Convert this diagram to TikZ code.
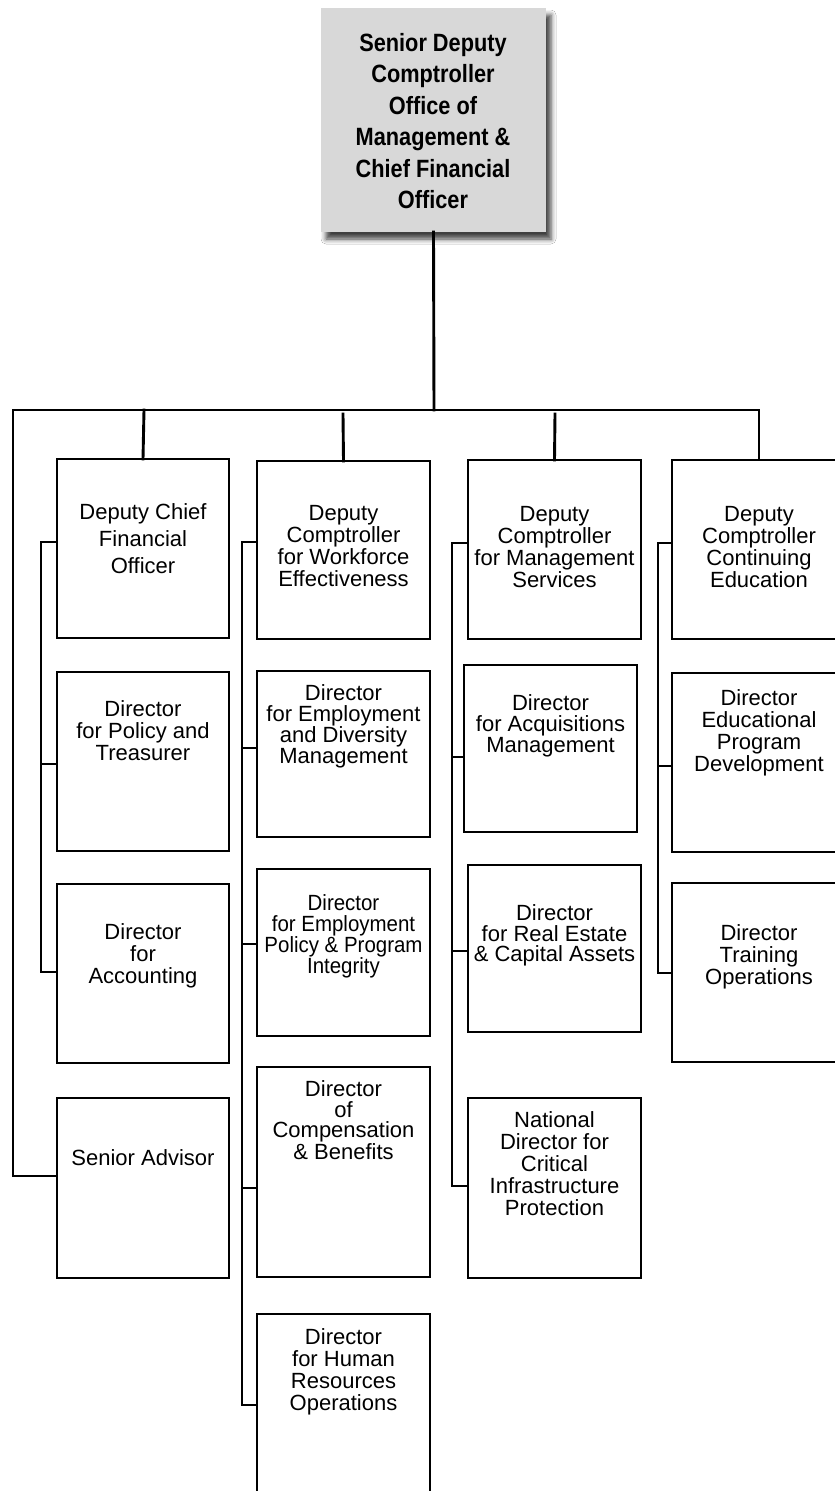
\documentclass[tikz,border=0pt]{standalone}
\usepackage{fontspec}
\setmainfont{Liberation Sans}
\newfontfamily\condbold[FakeStretch=0.87]{Liberation Sans Bold}
\newfontfamily\narrowsans[FakeStretch=0.93]{Liberation Sans}
\usetikzlibrary{shadows.blur}
\begin{document}
\begin{tikzpicture}[x=1pt,y=-1pt,
  box/.style={draw=black,line width=2.9pt,fill=white,inner sep=0pt,outer sep=0pt,minimum width=173pt},
  txt/.style={align=center,inner sep=0pt,font=\fontsize{22}{22}\selectfont},
  conn/.style={line width=2.9pt,line cap=rect},
  topbox/.style={fill={rgb,255:red,216;green,216;blue,216},inner sep=0pt,outer sep=0pt,minimum width=225pt,minimum height=224pt,
    blur shadow={shadow xshift=5pt,shadow yshift=-7pt,shadow blur radius=5pt,shadow opacity=75}}]
\useasboundingbox (0,0) rectangle (835,1491);
\clip (0,0) rectangle (835,1491);
\fill[white] (0,0) rectangle (835,1491);

% top box
\node[topbox] (top) at (433.5,120) {};
\node[align=center,inner sep=0pt,font=\condbold\fontsize{25}{31.5}\selectfont] (toptxt) at (433,121)
  {Senior Deputy\\Comptroller\\Office of\\Management \&\\Chief Financial\\Officer};

% bus coordinates
\coordinate (busL) at (13,410);
\coordinate (busR) at (759,410);
\coordinate (busT) at (434,410);
\coordinate (g2) at (343,414);
\coordinate (g3) at (555,414);
\coordinate (g1) at (144,410);

% column 1
\node[box,minimum width=172pt,minimum height=179pt] (c1r1) at (143,548.5) {};
\node[box,minimum width=172pt,minimum height=179pt] (c1r2) at (143,761.5) {};
\node[box,minimum width=172pt,minimum height=179pt] (c1r3) at (143,973.5) {};
\node[box,minimum width=172pt,minimum height=180pt] (c1r4) at (143,1188) {};
\node[txt,font=\fontsize{22}{27}\selectfont] (t11) at (143,538.5) {Deputy Chief\\Financial\\Officer};
\node[txt] (t12) at (143,731) {Director\\for Policy and\\Treasurer};
\node[txt] (t13) at (143,956) {Director\\for\\Accounting};
\node[txt] (t14) at (143,1158) {Senior Advisor};

% column 2
\node[box,minimum height=178pt] (c2r1) at (343.5,550) {};
\node[box,minimum height=166pt] (c2r2) at (343.5,754) {};
\node[box,minimum height=167pt] (c2r3) at (343.5,952.5) {};
\node[box,minimum height=210pt] (c2r4) at (343.5,1172) {};
\node[box,minimum height=190pt] (c2r5) at (343.5,1409) {};
\node[txt] (t21) at (343.5,546.5) {Deputy\\Comptroller\\for Workforce\\Effectiveness};
\node[txt,font=\fontsize{22}{21}\selectfont] (t22) at (343.5,726) {Director\\for Employment\\and Diversity\\Management};
\node[txt,font=\narrowsans\fontsize{22}{21}\selectfont] (t23) at (343.5,936.5) {Director\\for Employment\\Policy \& Program\\Integrity};
\node[txt,font=\fontsize{22}{20.5}\selectfont] (t24) at (343.5,1120) {Director\\of\\Compensation\\\& Benefits};
\node[txt] (t25) at (343.5,1372) {Director\\for Human\\Resources\\Operations};

% column 3
\node[box,minimum height=179pt] (c3r1) at (554.5,549.5) {};
\node[box,minimum height=167pt] (c3r2) at (550.5,748.5) {};
\node[box,minimum height=167pt] (c3r3) at (554.5,948.5) {};
\node[box,minimum height=180pt] (c3r4) at (554.5,1188) {};
\node[txt] (t31) at (554.5,547.5) {Deputy\\Comptroller\\for Management\\Services};
\node[txt,font=\fontsize{22}{21}\selectfont] (t32) at (550.5,726) {Director\\for Acquisitions\\Management};
\node[txt,font=\fontsize{22}{20.5}\selectfont] (t33) at (554.5,935.5) {Director\\for Real Estate\\\& Capital Assets};
\node[txt] (t34) at (554.5,1164) {National\\Director for\\Critical\\Infrastructure\\Protection};

% column 4
\node[box,minimum width=174pt,minimum height=179pt] (c4r1) at (759,549.5) {};
\node[box,minimum width=174pt,minimum height=179pt] (c4r2) at (759,762.5) {};
\node[box,minimum width=174pt,minimum height=179pt] (c4r3) at (759,972.5) {};
\node[txt] (t41) at (759,547.5) {Deputy\\Comptroller\\Continuing\\Education};
\node[txt] (t42) at (759,732.5) {Director\\Educational\\Program\\Development};
\node[txt] (t43) at (759,956.5) {Director\\Training\\Operations};

% main connectors
\draw[conn] (top.south) -- (busT);
\draw[conn] (busL) -- (busR);
\draw[conn] (busR) -- (c4r1.north);
\draw[conn] (g1) -- (c1r1.north);
\draw[conn] (g2) -- (c2r1.north);
\draw[conn] (g3) -- (c3r1.north);
\coordinate (sa) at (13,1176);
\draw[conn] (busL) -- (sa) -- (sa -| c1r4.west);

% column 1 side bus
\coordinate (s1a) at (41,542);
\coordinate (s1b) at (41,764);
\coordinate (s1c) at (41,972);
\draw[conn] (s1a -| c1r1.west) -- (s1a) -- (s1c) -- (s1c -| c1r3.west);
\draw[conn] (s1b) -- (s1b -| c1r2.west);

% column 2 side bus
\coordinate (s2a) at (242,542);
\coordinate (s2b) at (242,748);
\coordinate (s2c) at (242,944);
\coordinate (s2d) at (242,1188);
\coordinate (s2e) at (242,1405);
\draw[conn] (s2a -| c2r1.west) -- (s2a) -- (s2e) -- (s2e -| c2r5.west);
\draw[conn] (s2b) -- (s2b -| c2r2.west);
\draw[conn] (s2c) -- (s2c -| c2r3.west);
\draw[conn] (s2d) -- (s2d -| c2r4.west);

% column 3 side bus
\coordinate (s3a) at (452,543);
\coordinate (s3b) at (452,757);
\coordinate (s3c) at (452,951);
\coordinate (s3d) at (452,1186);
\draw[conn] (s3a -| c3r1.west) -- (s3a) -- (s3d) -- (s3d -| c3r4.west);
\draw[conn] (s3b) -- (s3b -| c3r2.west);
\draw[conn] (s3c) -- (s3c -| c3r3.west);

% column 4 side bus
\coordinate (s4a) at (658,543);
\coordinate (s4b) at (658,766);
\coordinate (s4c) at (658,973);
\draw[conn] (s4a -| c4r1.west) -- (s4a) -- (s4c) -- (s4c -| c4r3.west);
\draw[conn] (s4b) -- (s4b -| c4r2.west);
\end{tikzpicture}
\end{document}
